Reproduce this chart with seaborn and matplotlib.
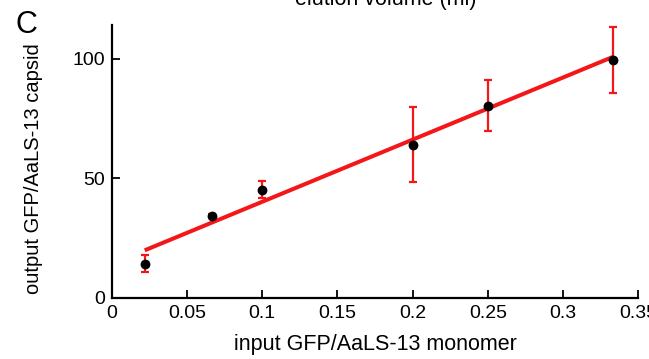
import numpy as np
import pandas as pd
import matplotlib
matplotlib.use("Agg")
import matplotlib.pyplot as plt
import seaborn as sns

# values
input_ratio = [0.022, 0.0667, 0.1, 0.2, 0.25, 0.333]
output_ratio = [14.3, 34.4, 45.2, 64.0, 80.3, 99.4]
err = [3.5, 0.5, 3.5, 15.6, 10.6, 13.7]
x_ticks = [0, 0.05, 0.1, 0.15, 0.2, 0.25, 0.3, 0.35]
x_tick_labels = ["0", "0.05", "0.1", "0.15", "0.2", "0.25", "0.3", "0.35"]
y_ticks = [0, 50, 100]

df = pd.DataFrame({"input": input_ratio, "output": output_ratio, "err": err})

sns.set_style("ticks")
plt.rcParams["font.family"] = ["Liberation Sans", "DejaVu Sans"]
plt.rcParams["text.color"] = "black"
plt.rcParams["axes.labelcolor"] = "black"

fig = plt.figure(figsize=(6.49, 3.59), dpi=100)
ax = fig.add_axes([0.172, 0.170, 0.8115, 0.760])

red = "#f5161a"
sns.regplot(data=df, x="input", y="output", ci=None, scatter=False, truncate=True,
            line_kws={"color": red, "lw": 2.9, "solid_capstyle": "butt"}, ax=ax)
ax.errorbar(df["input"], df["output"], yerr=df["err"], fmt="none", ecolor=red,
            elinewidth=1.6, capsize=3.2, capthick=1.6, zorder=3)
sns.scatterplot(data=df, x="input", y="output", color="black", s=50,
                edgecolor="black", linewidth=0, zorder=4, ax=ax)

ax.set_xlim(0, 0.35)
ax.set_ylim(0, 114)
ax.set_xticks(x_ticks)
ax.set_xticklabels(x_tick_labels)
ax.set_yticks(y_ticks)
ax.tick_params(direction="in", length=6, width=1.3, labelsize=14, colors="black",
               labelcolor="black", pad=5)
sns.despine(ax=ax)
for s in ["left", "bottom"]:
    ax.spines[s].set_linewidth(1.6)
    ax.spines[s].set_color("black")

ax.set_xlabel("input GFP/AaLS-13 monomer", fontsize=15.5, labelpad=9)
ax.set_ylabel("output GFP/AaLS-13 capsid", fontsize=14.5, labelpad=21)
ax.yaxis.label.set_y(0.475)

fig.text(0.04, 0.93, "C", fontsize=22, ha="center", va="center")
fig.text(0.594, 1 - 5 / 359, "elution volume (ml)", fontsize=15.5, ha="center", va="baseline")

fig.savefig("out.png", dpi=100)
